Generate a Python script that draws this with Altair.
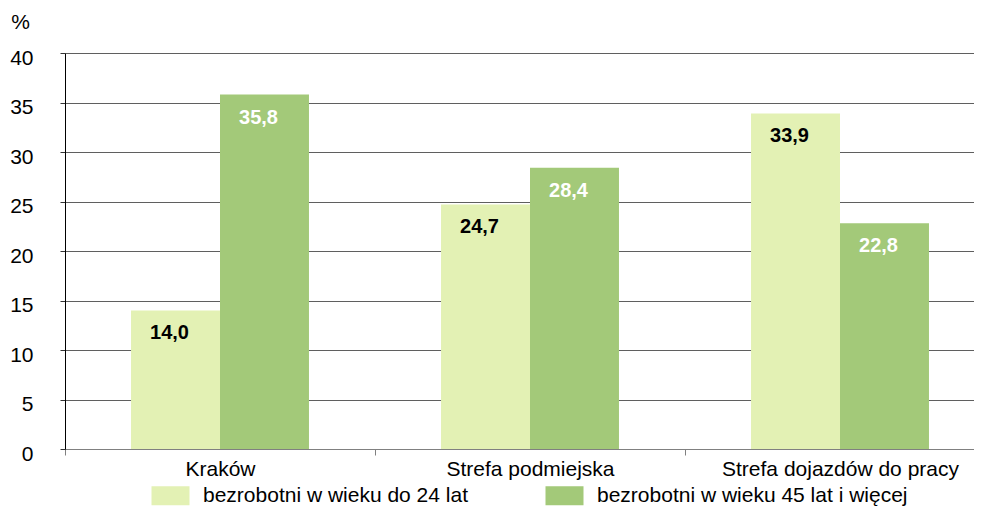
import altair as alt
import pandas as pd

categories = ["Kraków", "Strefa podmiejska", "Strefa dojazdów do pracy"]
series = ["bezrobotni w wieku do 24 lat", "bezrobotni w wieku 45 lat i więcej"]
young = [14.0, 24.7, 33.9]
older = [35.8, 28.4, 22.8]
colors = ["#E3F1B4", "#A3C979"]
text_colors = ["#000000", "#FFFFFF"]
y_ticks = [0, 5, 10, 15, 20, 25, 30, 35, 40]

rows = []
for i, c in enumerate(categories):
    for s, vals, tc in [(series[0], young, text_colors[0]), (series[1], older, text_colors[1])]:
        v = vals[i]
        rows.append({"cat": c, "series": s, "value": v,
                     "label": f"{v:.1f}".replace(".", ","), "tcolor": tc})
df = pd.DataFrame(rows)

FONT = "Liberation Sans"

x = alt.X("cat:N", sort=categories, title=None,
          scale=alt.Scale(paddingInner=0, paddingOuter=0),
          axis=alt.Axis(labelAngle=0, tickBand="extent", labelFontSize=21, labelFont=FONT,
                        labelColor="black", labelPadding=3, labelLimit=0, tickSize=6,
                        tickColor="#808080", domainColor="#808080", grid=False))
xo = alt.XOffset("series:N", sort=series,
                 scale=alt.Scale(paddingInner=0, paddingOuter=0.742))
y = alt.Y("value:Q", scale=alt.Scale(domain=[0, 40], nice=False, zero=True),
          axis=alt.Axis(values=y_ticks, title="%", titleAngle=0, titleX=-45, titleY=-31,
                        titleAlign="center", titleBaseline="middle", titleFontSize=21,
                        titleFontWeight="normal", titleFont=FONT, titleColor="black",
                        labelFontSize=21, labelFont=FONT, labelColor="black", labelPadding=27,
                        labelOffset=5, tickSize=5, tickColor="#333333", domainColor="black",
                        gridColor="#5f5f5f", gridWidth=1))

color = alt.Color("series:N", sort=series,
                  scale=alt.Scale(domain=series, range=colors),
                  legend=alt.Legend(title=None, orient="none", legendX=95, legendY=432,
                                    direction="horizontal",
                                    symbolType="M-1.9,-0.95H1.9V0.95H-1.9Z", symbolSize=400,
                                    symbolStrokeWidth=0, symbolOpacity=1,
                                    labelFontSize=21, labelFont=FONT, labelColor="black",
                                    labelOffset=22, labelLimit=0, columnPadding=77, padding=0))

bars = alt.Chart(df).mark_bar(opacity=1).encode(x=x, xOffset=xo, y=y, color=color)
labels = alt.Chart(df).mark_text(dy=23, dx=-6, baseline="middle", fontWeight="bold",
                                 fontSize=20, font=FONT).encode(
    x=x, xOffset=xo, y=y, text="label:N", color=alt.Color("tcolor:N", scale=None))

chart = alt.layer(bars, labels).properties(
    width=930, height=396,
    padding={"left": 57, "top": 45, "right": -21, "bottom": 58},
    autosize=alt.AutoSizeParams(type="none"),
    background="white",
).configure_view(stroke=None)

chart.save("out.html", embed_options={"renderer": "svg", "actions": False})
